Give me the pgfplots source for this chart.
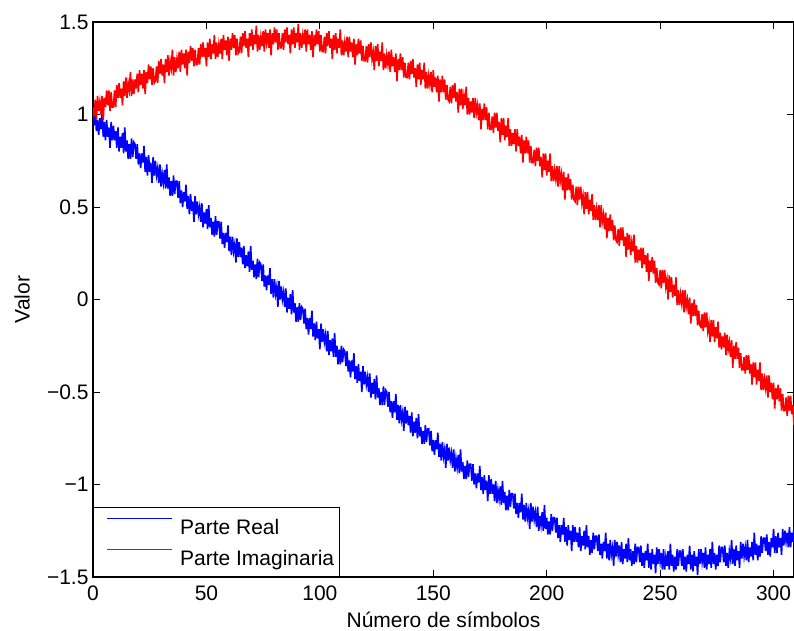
\documentclass[border=0pt]{standalone}
\usepackage{fontspec}
\setmainfont{Liberation Sans}
\usepackage{pgfplots}
\usepackage{pgfplotstable}
\pgfplotsset{compat=1.18}

% x = número de símbolo, re = parte real, im = parte imaginaria
\pgfplotstableread{
x re im
0 1.02 1.04
0.5 0.94 0.99
1 1.02 1.08
1.5 0.91 0.97
2 0.97 1.10
2.5 0.89 1.02
3 0.98 1.07
3.5 0.92 1.00
4 1.02 1.10
4.5 0.88 0.97
5 0.96 1.09
5.5 0.86 1.04
6 0.97 1.13
6.5 0.88 1.05
7 0.93 1.13
7.5 0.82 1.02
8 0.96 1.12
8.5 0.86 1.04
9 0.94 1.04
9.5 0.86 1.13
10 0.91 1.04
10.5 0.82 1.16
11 0.93 1.09
11.5 0.80 1.17
12 0.88 1.09
12.5 0.82 1.14
13 0.90 1.05
13.5 0.79 1.18
14 0.93 1.10
14.5 0.80 1.20
15 0.86 1.09
15.5 0.76 1.17
16 0.84 1.13
16.5 0.76 1.23
17 0.87 1.10
17.5 0.77 1.19
18 0.85 1.11
18.5 0.84 1.19
19 0.76 1.14
19.5 0.84 1.22
20 0.73 1.12
20.5 0.79 1.24
21 0.71 1.16
21.5 0.79 1.22
22 0.74 1.14
22.5 0.83 1.24
23 0.69 1.11
23.5 0.77 1.23
24 0.67 1.17
24.5 0.78 1.27
25 0.69 1.19
25.5 0.74 1.26
26 0.63 1.16
26.5 0.77 1.25
27 0.67 1.17
27.5 0.75 1.18
28 0.67 1.26
28.5 0.71 1.17
29 0.63 1.29
29.5 0.73 1.22
30 0.61 1.30
30.5 0.68 1.21
31 0.63 1.27
31.5 0.70 1.17
32 0.60 1.30
32.5 0.73 1.23
33 0.60 1.32
33.5 0.66 1.21
34 0.56 1.29
34.5 0.64 1.25
35 0.56 1.35
35.5 0.67 1.21
36 0.57 1.31
36.5 0.64 1.23
37 0.64 1.30
37.5 0.55 1.25
38 0.64 1.34
38.5 0.52 1.23
39 0.59 1.35
39.5 0.50 1.27
40 0.58 1.33
40.5 0.53 1.25
41 0.62 1.35
41.5 0.49 1.21
42 0.56 1.34
42.5 0.46 1.28
43 0.57 1.37
43.5 0.48 1.29
44 0.53 1.36
44.5 0.42 1.26
45 0.56 1.35
45.5 0.46 1.27
46 0.53 1.27
46.5 0.46 1.36
47 0.50 1.27
47.5 0.42 1.38
48 0.52 1.31
48.5 0.39 1.39
49 0.47 1.31
49.5 0.41 1.36
50 0.49 1.26
50.5 0.38 1.39
51 0.51 1.31
51.5 0.39 1.41
52 0.44 1.30
52.5 0.35 1.38
53 0.42 1.33
53.5 0.34 1.43
54 0.45 1.30
54.5 0.35 1.39
55 0.42 1.31
55.5 0.42 1.38
56 0.33 1.33
56.5 0.42 1.41
57 0.30 1.30
57.5 0.36 1.43
58 0.28 1.35
58.5 0.36 1.40
59 0.31 1.32
59.5 0.40 1.42
60 0.26 1.29
60.5 0.34 1.41
61 0.24 1.35
61.5 0.34 1.44
62 0.26 1.36
62.5 0.30 1.43
63 0.20 1.32
63.5 0.33 1.41
64 0.23 1.33
64.5 0.31 1.34
65 0.23 1.42
65.5 0.28 1.33
66 0.19 1.44
66.5 0.29 1.37
67 0.17 1.45
67.5 0.24 1.36
68 0.18 1.41
68.5 0.26 1.31
69 0.15 1.44
69.5 0.29 1.37
70 0.16 1.46
70.5 0.21 1.35
71 0.12 1.43
71.5 0.19 1.38
72 0.11 1.48
72.5 0.22 1.34
73 0.12 1.43
73.5 0.20 1.35
74 0.19 1.42
74.5 0.10 1.37
75 0.19 1.45
75.5 0.07 1.34
76 0.13 1.46
76.5 0.05 1.39
77 0.13 1.44
77.5 0.08 1.36
78 0.17 1.46
78.5 0.03 1.32
79 0.11 1.44
79.5 0.01 1.38
80 0.11 1.47
80.5 0.03 1.39
81 0.07 1.46
81.5 -0.04 1.35
82 0.10 1.44
82.5 0.00 1.36
83 0.07 1.36
83.5 0.00 1.44
84 0.04 1.35
84.5 -0.04 1.46
85 0.06 1.39
85.5 -0.07 1.47
86 0.01 1.38
86.5 -0.05 1.43
87 0.03 1.33
87.5 -0.08 1.46
88 0.05 1.38
88.5 -0.07 1.47
89 -0.02 1.36
89.5 -0.12 1.44
90 -0.04 1.39
90.5 -0.12 1.49
91 -0.02 1.35
91.5 -0.11 1.44
92 -0.04 1.36
92.5 -0.05 1.43
93 -0.13 1.38
93.5 -0.05 1.46
94 -0.16 1.34
94.5 -0.10 1.46
95 -0.19 1.38
95.5 -0.10 1.43
96 -0.16 1.35
96.5 -0.06 1.45
97 -0.20 1.31
97.5 -0.13 1.43
98 -0.22 1.37
98.5 -0.12 1.46
99 -0.21 1.38
99.5 -0.16 1.45
100 -0.27 1.34
100.5 -0.13 1.43
101 -0.23 1.34
101.5 -0.16 1.34
102 -0.23 1.42
102.5 -0.19 1.33
103 -0.28 1.44
103.5 -0.17 1.37
104 -0.30 1.45
104.5 -0.22 1.36
105 -0.28 1.41
105.5 -0.21 1.30
106 -0.31 1.43
106.5 -0.18 1.35
107 -0.31 1.44
107.5 -0.25 1.33
108 -0.35 1.41
108.5 -0.27 1.36
109 -0.35 1.46
109.5 -0.25 1.32
110 -0.34 1.40
110.5 -0.27 1.32
111 -0.28 1.39
111.5 -0.36 1.34
112 -0.28 1.42
112.5 -0.39 1.31
113 -0.33 1.42
113.5 -0.42 1.34
114 -0.33 1.39
114.5 -0.39 1.31
115 -0.29 1.41
115.5 -0.43 1.27
116 -0.36 1.38
116.5 -0.45 1.32
117 -0.35 1.41
117.5 -0.44 1.33
118 -0.39 1.40
118.5 -0.50 1.29
119 -0.36 1.37
119.5 -0.46 1.29
120 -0.39 1.29
120.5 -0.46 1.37
121 -0.42 1.28
121.5 -0.50 1.38
122 -0.40 1.31
122.5 -0.53 1.39
123 -0.45 1.30
123.5 -0.51 1.34
124 -0.43 1.24
124.5 -0.54 1.37
125 -0.41 1.29
125.5 -0.53 1.38
126 -0.48 1.26
126.5 -0.57 1.34
127 -0.50 1.29
127.5 -0.57 1.39
128 -0.47 1.24
128.5 -0.57 1.33
129 -0.49 1.25
129.5 -0.50 1.32
130 -0.58 1.27
130.5 -0.50 1.34
131 -0.61 1.23
131.5 -0.55 1.35
132 -0.64 1.26
132.5 -0.55 1.31
133 -0.61 1.23
133.5 -0.51 1.33
134 -0.65 1.18
134.5 -0.57 1.30
135 -0.67 1.24
135.5 -0.57 1.33
136 -0.65 1.24
136.5 -0.61 1.31
137 -0.71 1.20
137.5 -0.58 1.28
138 -0.67 1.20
138.5 -0.60 1.20
139 -0.68 1.28
139.5 -0.63 1.19
140 -0.72 1.29
140.5 -0.61 1.22
141 -0.74 1.30
141.5 -0.66 1.20
142 -0.72 1.25
142.5 -0.64 1.15
143 -0.75 1.27
143.5 -0.62 1.19
144 -0.74 1.28
144.5 -0.69 1.16
145 -0.78 1.24
145.5 -0.71 1.19
146 -0.78 1.28
146.5 -0.68 1.14
147 -0.77 1.23
147.5 -0.70 1.14
148 -0.70 1.21
148.5 -0.79 1.16
149 -0.71 1.23
149.5 -0.82 1.12
150 -0.76 1.24
150.5 -0.84 1.15
151 -0.76 1.20
151.5 -0.81 1.12
152 -0.72 1.21
152.5 -0.85 1.07
153 -0.78 1.19
153.5 -0.87 1.12
154 -0.77 1.21
154.5 -0.85 1.12
155 -0.81 1.19
155.5 -0.91 1.08
156 -0.78 1.16
156.5 -0.87 1.08
157 -0.80 1.07
157.5 -0.87 1.15
158 -0.83 1.06
158.5 -0.91 1.16
159 -0.81 1.09
159.5 -0.93 1.17
160 -0.86 1.07
160.5 -0.91 1.12
161 -0.84 1.01
161.5 -0.94 1.14
162 -0.81 1.05
162.5 -0.93 1.14
163 -0.88 1.03
163.5 -0.97 1.10
164 -0.90 1.05
164.5 -0.97 1.15
165 -0.87 1.00
165.5 -0.96 1.09
166 -0.89 1.00
166.5 -0.89 1.07
167 -0.98 1.01
167.5 -0.89 1.09
168 -1.00 0.98
168.5 -0.94 1.09
169 -1.02 1.01
169.5 -0.94 1.05
170 -0.99 0.97
170.5 -0.90 1.06
171 -1.03 0.92
171.5 -0.96 1.03
172 -1.05 0.97
172.5 -0.95 1.06
173 -1.03 0.97
173.5 -0.98 1.04
174 -1.09 0.92
174.5 -0.95 1.01
175 -1.05 0.92
175.5 -0.97 0.92
176 -1.05 0.99
176.5 -1.00 0.90
177 -1.09 1.01
177.5 -0.98 0.93
178 -1.10 1.01
178.5 -1.03 0.91
179 -1.08 0.96
179.5 -1.01 0.85
180 -1.11 0.98
180.5 -0.98 0.89
181 -1.10 0.98
181.5 -1.04 0.86
182 -1.14 0.94
182.5 -1.06 0.88
183 -1.14 0.98
183.5 -1.03 0.83
184 -1.12 0.92
184.5 -1.05 0.83
185 -1.05 0.90
185.5 -1.13 0.84
186 -1.05 0.92
186.5 -1.16 0.80
187 -1.10 0.92
187.5 -1.18 0.83
188 -1.10 0.88
188.5 -1.15 0.79
189 -1.05 0.89
189.5 -1.19 0.74
190 -1.11 0.86
190.5 -1.20 0.79
191 -1.10 0.88
191.5 -1.18 0.79
192 -1.14 0.86
192.5 -1.24 0.74
193 -1.10 0.83
193.5 -1.20 0.74
194 -1.12 0.74
194.5 -1.19 0.81
195 -1.15 0.72
195.5 -1.23 0.82
196 -1.12 0.75
196.5 -1.25 0.82
197 -1.17 0.72
197.5 -1.22 0.77
198 -1.15 0.66
198.5 -1.25 0.79
199 -1.11 0.70
199.5 -1.24 0.79
200 -1.18 0.67
200.5 -1.27 0.75
201 -1.20 0.69
201.5 -1.27 0.79
202 -1.16 0.64
202.5 -1.25 0.72
203 -1.18 0.64
203.5 -1.18 0.70
204 -1.26 0.65
204.5 -1.18 0.72
205 -1.29 0.61
205.5 -1.22 0.72
206 -1.31 0.64
206.5 -1.22 0.68
207 -1.27 0.59
207.5 -1.18 0.69
208 -1.31 0.54
208.5 -1.23 0.66
209 -1.33 0.59
209.5 -1.22 0.68
210 -1.30 0.59
210.5 -1.25 0.65
211 -1.36 0.54
211.5 -1.22 0.62
212 -1.31 0.54
212.5 -1.23 0.53
213 -1.31 0.61
213.5 -1.26 0.51
214 -1.34 0.61
214.5 -1.23 0.54
215 -1.36 0.61
215.5 -1.28 0.52
216 -1.33 0.56
216.5 -1.25 0.46
217 -1.35 0.58
217.5 -1.22 0.49
218 -1.34 0.58
218.5 -1.28 0.46
219 -1.38 0.54
219.5 -1.30 0.48
220 -1.37 0.57
220.5 -1.26 0.43
221 -1.35 0.51
221.5 -1.28 0.43
222 -1.28 0.49
222.5 -1.36 0.43
223 -1.27 0.51
223.5 -1.38 0.39
224 -1.32 0.51
224.5 -1.40 0.42
225 -1.31 0.46
225.5 -1.36 0.38
226 -1.26 0.47
226.5 -1.40 0.33
227 -1.32 0.44
227.5 -1.41 0.37
228 -1.30 0.46
228.5 -1.38 0.37
229 -1.34 0.43
229.5 -1.44 0.32
230 -1.30 0.40
230.5 -1.39 0.32
231 -1.31 0.31
231.5 -1.38 0.38
232 -1.33 0.29
232.5 -1.42 0.39
233 -1.31 0.32
233.5 -1.43 0.39
234 -1.35 0.29
234.5 -1.40 0.34
235 -1.32 0.23
235.5 -1.42 0.36
236 -1.29 0.27
236.5 -1.41 0.35
237 -1.35 0.24
237.5 -1.44 0.31
238 -1.36 0.26
238.5 -1.43 0.35
239 -1.32 0.20
239.5 -1.42 0.29
240 -1.34 0.20
240.5 -1.34 0.27
241 -1.42 0.21
241.5 -1.33 0.28
242 -1.44 0.17
242.5 -1.37 0.28
243 -1.45 0.19
243.5 -1.36 0.24
244 -1.41 0.15
244.5 -1.32 0.25
245 -1.45 0.10
245.5 -1.37 0.21
246 -1.46 0.15
246.5 -1.35 0.23
247 -1.43 0.14
247.5 -1.38 0.21
248 -1.48 0.09
248.5 -1.34 0.17
249 -1.43 0.09
249.5 -1.35 0.08
250 -1.42 0.16
250.5 -1.37 0.06
251 -1.46 0.16
251.5 -1.35 0.09
252 -1.46 0.16
252.5 -1.39 0.07
253 -1.44 0.11
253.5 -1.36 0.00
254 -1.46 0.13
254.5 -1.32 0.04
255 -1.44 0.12
255.5 -1.38 0.01
256 -1.47 0.08
256.5 -1.39 0.02
257 -1.46 0.12
257.5 -1.35 -0.03
258 -1.44 0.05
258.5 -1.36 -0.03
259 -1.36 0.03
259.5 -1.44 -0.02
260 -1.35 0.05
260.5 -1.46 -0.07
261 -1.39 0.05
261.5 -1.47 -0.04
262 -1.38 0.00
262.5 -1.43 -0.08
263 -1.33 0.01
263.5 -1.46 -0.13
264 -1.38 -0.02
264.5 -1.47 -0.09
265 -1.36 0.00
265.5 -1.44 -0.09
266 -1.39 -0.03
266.5 -1.49 -0.14
267 -1.35 -0.06
267.5 -1.43 -0.14
268 -1.35 -0.15
268.5 -1.42 -0.08
269 -1.37 -0.17
269.5 -1.45 -0.07
270 -1.34 -0.15
270.5 -1.46 -0.07
271 -1.38 -0.17
271.5 -1.43 -0.13
272 -1.35 -0.23
272.5 -1.45 -0.11
273 -1.31 -0.20
273.5 -1.43 -0.11
274 -1.37 -0.23
274.5 -1.46 -0.15
275 -1.38 -0.21
275.5 -1.44 -0.12
276 -1.33 -0.26
276.5 -1.42 -0.18
277 -1.34 -0.27
277.5 -1.34 -0.20
278 -1.42 -0.26
278.5 -1.33 -0.18
279 -1.44 -0.30
279.5 -1.37 -0.19
280 -1.45 -0.27
280.5 -1.36 -0.23
281 -1.40 -0.31
281.5 -1.30 -0.22
282 -1.43 -0.37
282.5 -1.35 -0.25
283 -1.44 -0.32
283.5 -1.33 -0.23
284 -1.41 -0.32
284.5 -1.36 -0.26
285 -1.45 -0.37
285.5 -1.31 -0.29
286 -1.40 -0.38
286.5 -1.32 -0.38
287 -1.39 -0.31
287.5 -1.34 -0.40
288 -1.41 -0.30
288.5 -1.30 -0.38
289 -1.42 -0.30
289.5 -1.34 -0.40
290 -1.39 -0.35
290.5 -1.31 -0.46
291 -1.41 -0.34
291.5 -1.26 -0.42
292 -1.38 -0.34
292.5 -1.32 -0.46
293 -1.41 -0.38
293.5 -1.33 -0.44
294 -1.39 -0.34
294.5 -1.28 -0.49
295 -1.37 -0.40
295.5 -1.29 -0.49
296 -1.29 -0.43
296.5 -1.36 -0.48
297 -1.27 -0.41
297.5 -1.38 -0.53
298 -1.31 -0.41
298.5 -1.39 -0.50
299 -1.29 -0.45
299.5 -1.34 -0.54
300 -1.24 -0.45
300.5 -1.37 -0.59
301 -1.28 -0.48
301.5 -1.37 -0.54
302 -1.26 -0.46
302.5 -1.34 -0.55
303 -1.29 -0.48
303.5 -1.38 -0.60
304 -1.24 -0.51
304.5 -1.33 -0.60
305 -1.25 -0.60
305.5 -1.31 -0.53
306 -1.26 -0.63
306.5 -1.34 -0.52
307 -1.23 -0.60
307.5 -1.34 -0.52
308 -1.26 -0.62
308.5 -1.31 -0.57
309 -1.23 -0.68
}\simbolos

\newcommand{\fnt}{\fontsize{21bp}{25bp}\selectfont}

\begin{document}
\begin{tikzpicture}
\path[use as bounding box] (0bp,0bp) rectangle (794bp,631bp);
\begin{axis}[
  at={(93bp,54bp)}, anchor=south west,
  scale only axis, width=701bp, height=555bp,
  xmin=0, xmax=309, ymin=-1.5, ymax=1.5,
  xtick={0,50,...,300}, xticklabels={0,50,100,150,200,250,300},
  ytick={-1.5,-1,-0.5,0,0.5,1,1.5},
  yticklabels={−1.5,−1,−0.5,0,0.5,1,1.5},
  xtick pos=both, ytick pos=both,
  xticklabel pos=left, yticklabel pos=left,
  tick align=inside, major tick length=7bp,
  tick style={black, line width=0.8bp},
  axis line style={black, line width=1.2bp},
  every tick label/.append style={font=\fnt, text=black},
  xticklabel style={yshift=-5bp},
  yticklabel style={xshift=-1bp},
  xlabel={Número de símbolos}, ylabel={Valor},
  label style={font=\fnt},
  xlabel style={at={(axis description cs:0.5,-0.0901)}, anchor=base, inner sep=0pt},
  ylabel style={at={(axis description cs:-0.0899,0.5)}, anchor=south, inner sep=0pt},
  legend style={at={(axis description cs:0,0)}, anchor=south west,
    draw=black, line width=1bp, fill=white,
    inner xsep=5bp, inner ysep=6bp, row sep=5bp, font=\fnt,
    nodes={inner sep=0pt, text height=21bp, text depth=5bp}},
  legend cell align=left,
  legend image code/.code={%
    \path (0bp,0bp) (80bp,0bp);
    \draw[#1, line width=1bp] (8bp,7.5bp) -- (73bp,7.5bp);},
]
\addplot[blue, line width=1.6bp] table[x=x, y=re] {\simbolos};
\addplot[red, line width=1.6bp] table[x=x, y=im] {\simbolos};
\legend{Parte Real, Parte Imaginaria}
\end{axis}
\end{tikzpicture}
\end{document}
